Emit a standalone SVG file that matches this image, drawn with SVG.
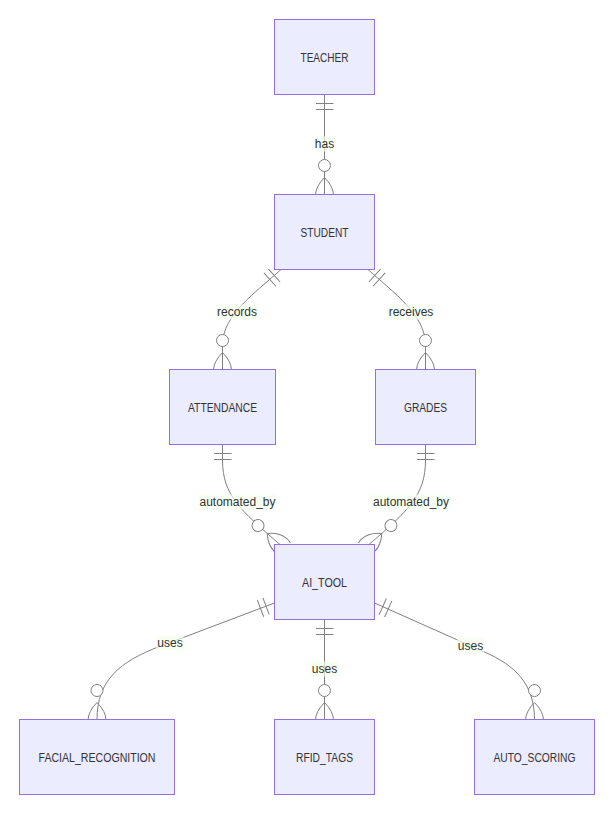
<svg xmlns="http://www.w3.org/2000/svg" width="614" height="815" viewBox="0 0 614 815">
<style>
.ent rect{fill:#ECECFF;stroke:#9370DB;stroke-width:1}
.ent text{font-family:"Liberation Sans",Arial,sans-serif;font-size:12px;fill:#333;text-anchor:middle}
.rel{fill:none;stroke:#808080;stroke-width:1;marker-start:url(#oneStart);marker-end:url(#zeroMoreEnd)}
.lbl rect{fill:#f2ffec;opacity:0.7}
.lbl text{font-family:"Liberation Sans",Arial,sans-serif;font-size:12px;fill:#333;text-anchor:middle}
</style>
<defs>
<marker id="oneStart" refX="0" refY="9" markerWidth="18" markerHeight="18" orient="auto" markerUnits="userSpaceOnUse">
<path d="M9,0 L9,18 M15,0 L15,18" stroke="gray" fill="none"/>
</marker>
<marker id="zeroMoreEnd" refX="38" refY="18" markerWidth="45" markerHeight="36" orient="auto" markerUnits="userSpaceOnUse">
<circle cx="9" cy="18" r="6" stroke="gray" fill="white"/>
<path d="M21,18 Q39,0 57,18 Q39,36 21,18" stroke="gray" fill="none"/>
</marker>
</defs>
<g id="connectors">
<path class="rel" d="M324.5,94.5 L324.5,194.5"/>
<path class="rel" d="M281,269.5 C255,293 222.5,315 222.5,345 L222.5,369.5"/>
<path class="rel" d="M368,269.5 C394,293 425.5,315 425.5,345 L425.5,369.5"/>
<path class="rel" d="M222.5,444.5 L222.5,460 C222.5,495 240,510 280,544.5"/>
<path class="rel" d="M425.5,444.5 L425.5,460 C425.5,495 409,510 369,544.5"/>
<path class="rel" d="M274.5,603 L160,646.3 C120,661.5 97,680 97,719.5"/>
<path class="rel" d="M324.5,619.5 L324.5,719.5"/>
<path class="rel" d="M374.5,603 L485,652.2 C515,665.5 534.5,684 534.5,719.5"/>
<g class="lbl">
<rect x="313.8" y="136.5" width="21.3" height="15"/><text x="324.5" y="148">has</text>
<rect x="216" y="304.5" width="42" height="15"/><text x="237" y="316">records</text>
<rect x="387.6" y="304.5" width="46.7" height="15"/><text x="411" y="316">receives</text>
<rect x="198.5" y="494.5" width="78" height="15"/><text x="237.5" y="506">automated_by</text>
<rect x="372" y="494.5" width="78" height="15"/><text x="411" y="506">automated_by</text>
<rect x="156.3" y="635.5" width="27.3" height="15"/><text x="170" y="647">uses</text>
<rect x="310.8" y="661.5" width="27.3" height="15"/><text x="324.5" y="673">uses</text>
<rect x="456.8" y="638" width="27.3" height="15"/><text x="470.5" y="649.5">uses</text>
</g>
</g>
<g id="TEACHER" class="ent"><rect x="274.5" y="19.5" width="100" height="75"/><text x="324.5" y="61.5" textLength="48" lengthAdjust="spacingAndGlyphs">TEACHER</text></g>
<g id="STUDENT" class="ent"><rect x="274.5" y="194.5" width="100" height="75"/><text x="324.5" y="236.5" textLength="48" lengthAdjust="spacingAndGlyphs">STUDENT</text></g>
<g id="ATTENDANCE" class="ent"><rect x="169.5" y="369.5" width="106" height="75"/><text x="222.5" y="411.5" textLength="69" lengthAdjust="spacingAndGlyphs">ATTENDANCE</text></g>
<g id="GRADES" class="ent"><rect x="375.5" y="369.5" width="100" height="75"/><text x="425.5" y="411.5" textLength="43" lengthAdjust="spacingAndGlyphs">GRADES</text></g>
<g id="AI_TOOL" class="ent"><rect x="274.5" y="544.5" width="100" height="75"/><text x="324.5" y="586.5" textLength="45" lengthAdjust="spacingAndGlyphs">AI_TOOL</text></g>
<g id="FACIAL_RECOGNITION" class="ent"><rect x="19.5" y="719.5" width="155" height="75"/><text x="97" y="761.5" textLength="117" lengthAdjust="spacingAndGlyphs">FACIAL_RECOGNITION</text></g>
<g id="RFID_TAGS" class="ent"><rect x="274.5" y="719.5" width="100" height="75"/><text x="324.5" y="761.5" textLength="57" lengthAdjust="spacingAndGlyphs">RFID_TAGS</text></g>
<g id="AUTO_SCORING" class="ent"><rect x="474.5" y="719.5" width="120" height="75"/><text x="534.5" y="761.5" textLength="82" lengthAdjust="spacingAndGlyphs">AUTO_SCORING</text></g>
</svg>
